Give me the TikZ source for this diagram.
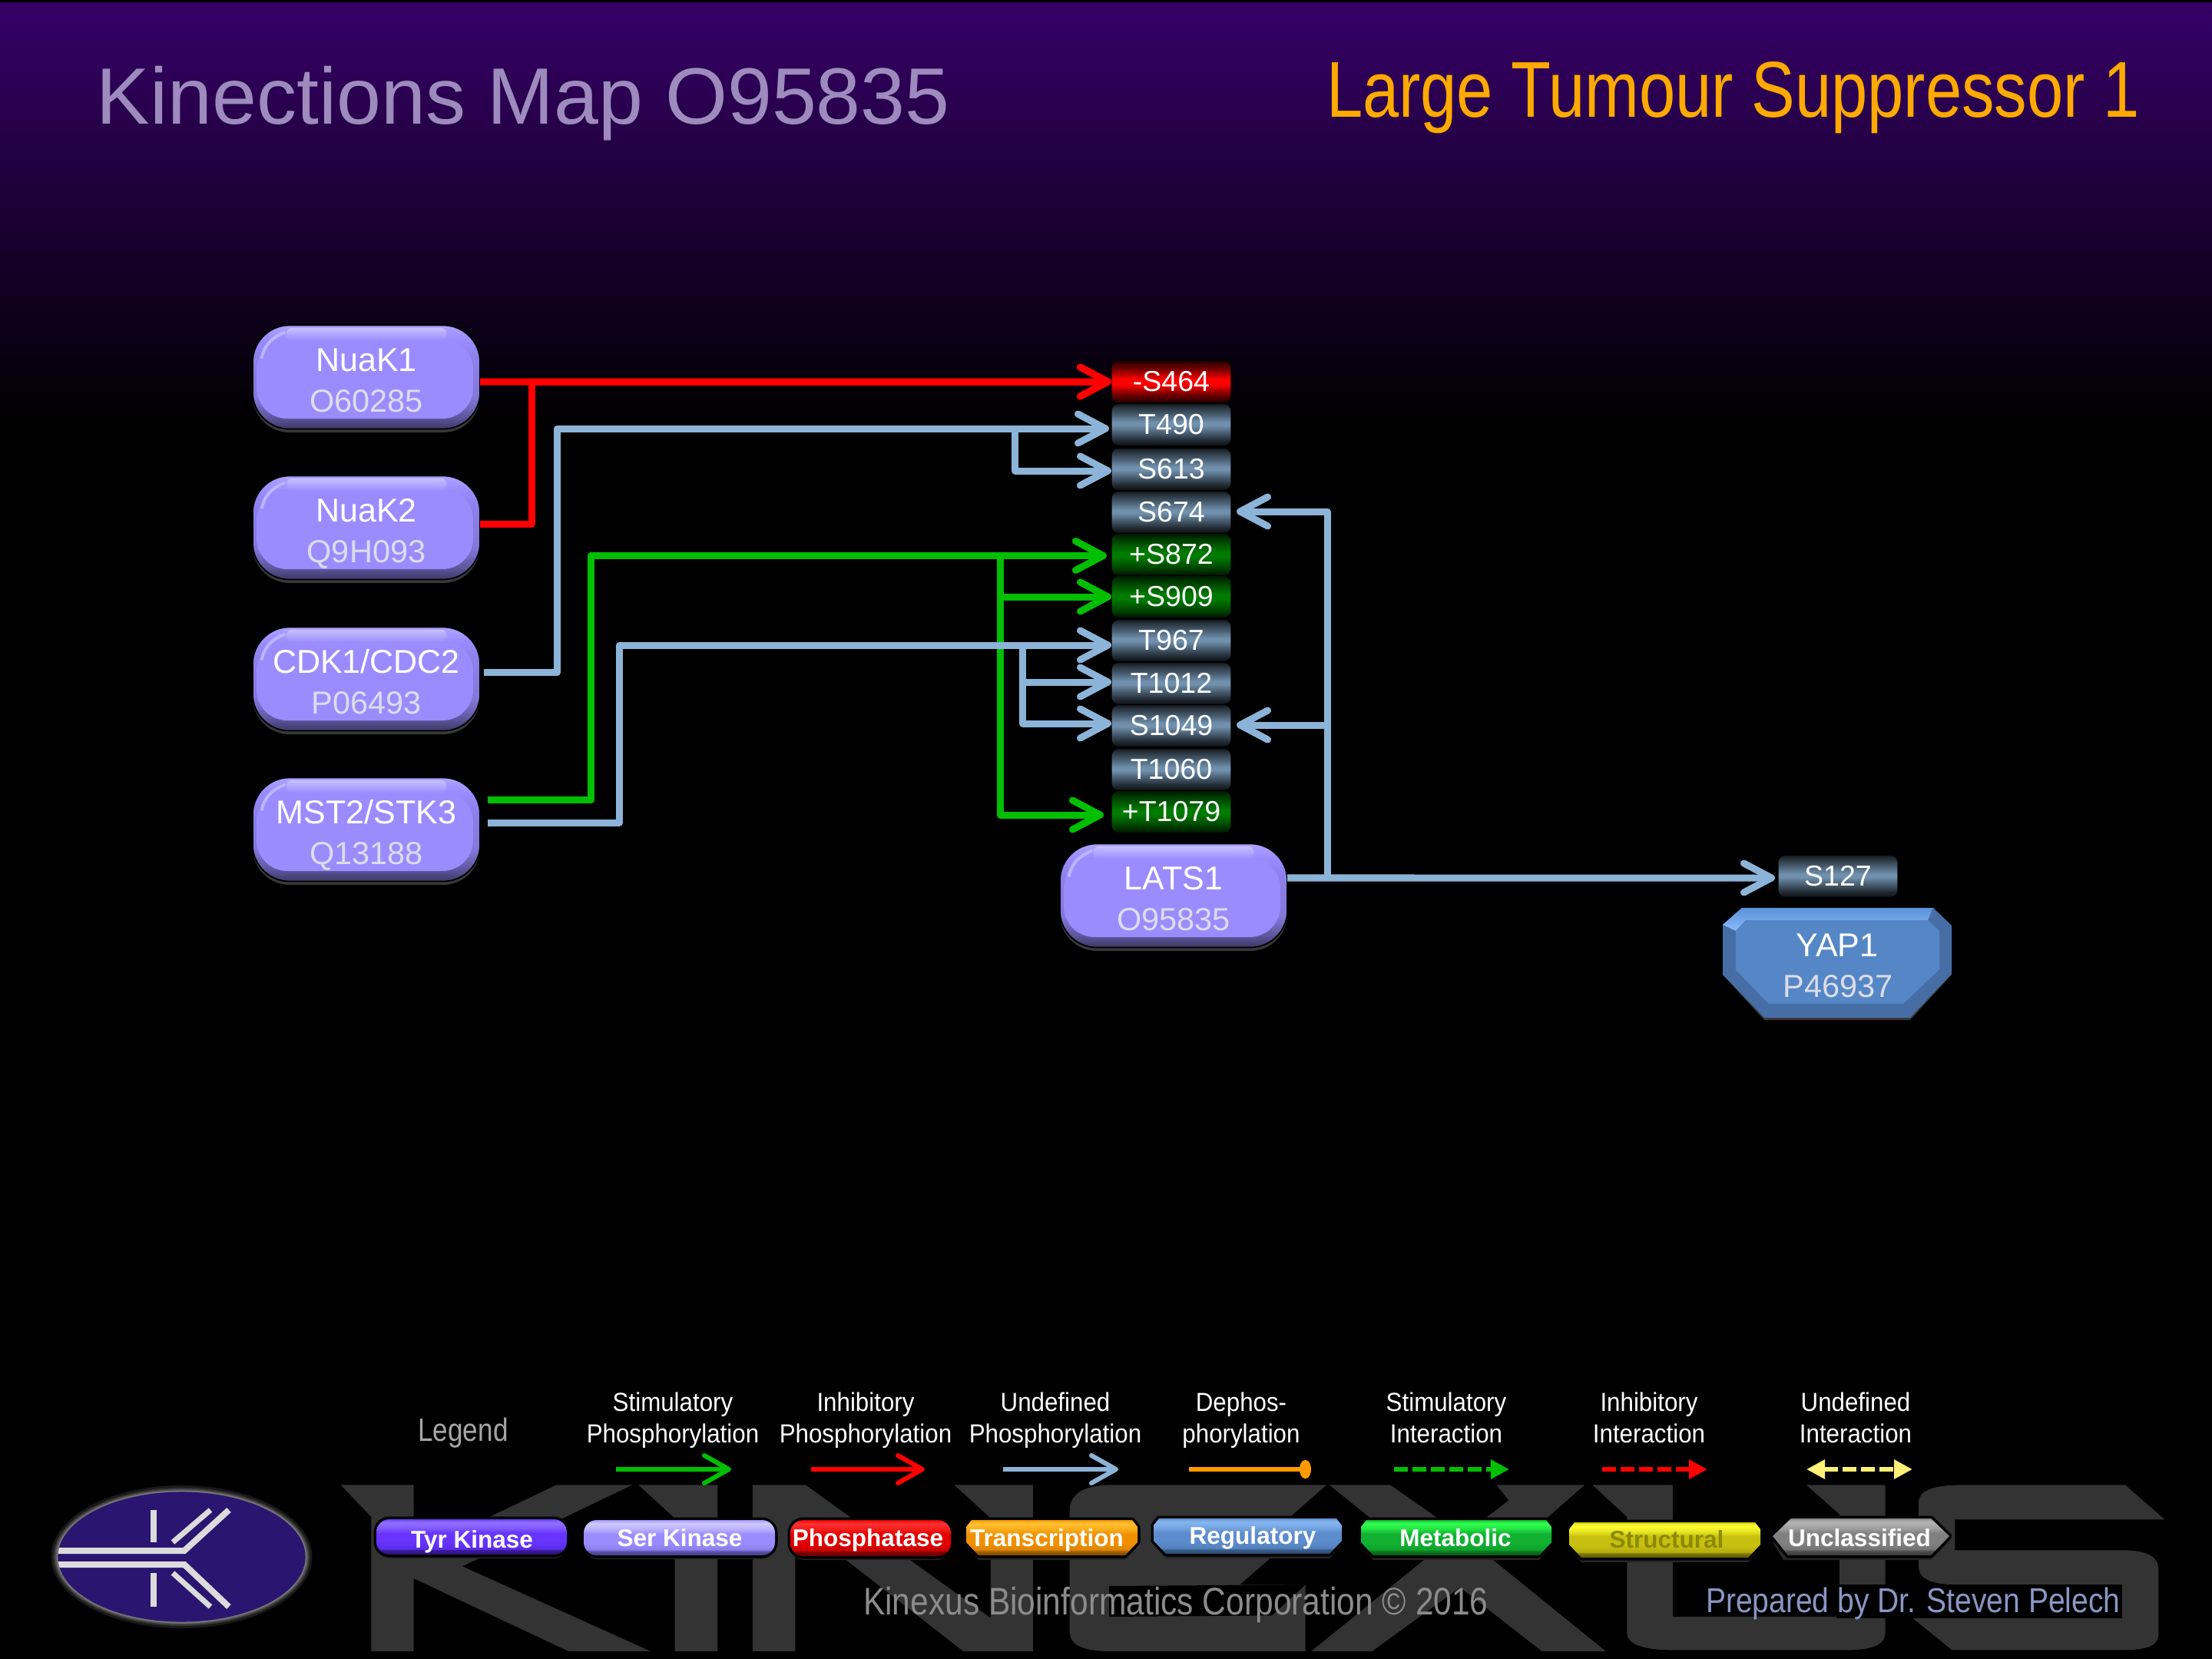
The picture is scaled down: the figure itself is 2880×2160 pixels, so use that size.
\documentclass[tikz,border=0pt]{standalone}
\usepackage{fontspec}
\usepackage{graphicx}
\setmainfont{Liberation Sans}
\usetikzlibrary{arrows.meta,calc}
% colours
\definecolor{cRed}{HTML}{FF0000}
\definecolor{cGreen}{HTML}{00BF00}
\definecolor{cBlue}{HTML}{8CB4D8}
\definecolor{cOrange}{HTML}{FF9900}
\definecolor{cYellow}{HTML}{FFF176}
\definecolor{cBody}{HTML}{9A8CFF}
\definecolor{cSub}{HTML}{DCDCE8}
\definecolor{cMark}{HTML}{333333}
\definecolor{cBg}{HTML}{340063}
\definecolor{cTitleL}{HTML}{9D8BBD}
\definecolor{cTitleR}{HTML}{FFAA00}
\definecolor{cYapA}{HTML}{466EA5}
\definecolor{cYapB}{HTML}{5A91D7}
\definecolor{cYapC}{HTML}{8ABCFF}
\definecolor{cYapD}{HTML}{5587C6}
\definecolor{cStruct}{HTML}{8C8A00}
\definecolor{cLogo}{HTML}{2A1570}
\definecolor{cFootA}{HTML}{8C8C8C}
\definecolor{cFootB}{HTML}{8A96C4}
% shadings: TikZ maps the inner 25bp..75bp band of a 100bp shading onto the path
\pgfdeclareverticalshading{bubblesh}{100bp}{color(0bp)=(cBody!40!black); color(25bp)=(cBody!40!black); color(31bp)=(cBody!62!black); color(40bp)=(cBody!85!black); color(60bp)=(cBody!92!black); color(68bp)=(cBody); color(75bp)=(cBody!80!white); color(100bp)=(cBody!80!white)}
\pgfdeclareverticalshading{sblue}{100bp}{color(0bp)=(black!92!cBlue); color(25bp)=(black!92!cBlue); color(31bp)=(black!78!cBlue); color(40bp)=(black!50!cBlue); color(49bp)=(black!20!cBlue); color(53bp)=(black!20!cBlue); color(62bp)=(black!48!cBlue); color(70bp)=(black!70!cBlue); color(75bp)=(black!85!cBlue); color(100bp)=(black!85!cBlue)}
\pgfdeclareverticalshading{sred}{100bp}{color(0bp)=(black!88!red); color(25bp)=(black!88!red); color(35bp)=(black!55!red); color(47bp)=(red); color(53bp)=(red); color(65bp)=(black!55!red); color(75bp)=(black!85!red); color(100bp)=(black!85!red)}
\pgfdeclareverticalshading{sgreen}{100bp}{color(0bp)=(black!92!green); color(25bp)=(black!92!green); color(35bp)=(black!72!green); color(47bp)=(black!52!green); color(53bp)=(black!52!green); color(65bp)=(black!72!green); color(75bp)=(black!90!green); color(100bp)=(black!90!green)}
\newcommand\legsh[4]{\pgfdeclareverticalshading{#1}{100bp}{color(0bp)=(#4!70!black); color(25bp)=(#4!70!black); color(31bp)=(#4); color(33bp)=(#2!75!#4); color(38bp)=(#2!88!#4); color(42bp)=(#2); color(55bp)=(#2); color(62bp)=(#3!60!#2); color(70bp)=(#3); color(73bp)=(#3!60!#2); color(75bp)=(#2); color(100bp)=(#2)}}
\definecolor{t1}{HTML}{6633FF}\definecolor{t2}{HTML}{9070FF}\definecolor{t3}{HTML}{3A1A99}
\definecolor{s1}{HTML}{9A8CFF}\definecolor{s2}{HTML}{CFC8FF}\definecolor{s3}{HTML}{5F54B0}
\definecolor{p1}{HTML}{E00000}\definecolor{p2}{HTML}{FF3030}\definecolor{p3}{HTML}{8A0000}
\definecolor{r1}{HTML}{F09000}\definecolor{r2}{HTML}{FFC030}\definecolor{r3}{HTML}{A86400}
\definecolor{g1}{HTML}{5C8CCC}\definecolor{g2}{HTML}{85B5F0}\definecolor{g3}{HTML}{3A6290}
\definecolor{m1}{HTML}{10B030}\definecolor{m2}{HTML}{30FF50}\definecolor{m3}{HTML}{0A7A1E}
\definecolor{y1}{HTML}{C8C010}\definecolor{y2}{HTML}{FFFF30}\definecolor{y3}{HTML}{807A08}
\definecolor{u1}{HTML}{808080}\definecolor{u2}{HTML}{B4B4B4}\definecolor{u3}{HTML}{505050}
\legsh{shTyr}{t1}{t2}{t3}\legsh{shSer}{s1}{s2}{s3}\legsh{shPho}{p1}{p2}{p3}\legsh{shTra}{r1}{r2}{r3}
\legsh{shReg}{g1}{g2}{g3}\legsh{shMet}{m1}{m2}{m3}\legsh{shStr}{y1}{y2}{y3}\legsh{shUnc}{u1}{u2}{u3}
% text helpers (sizes in reference pixels)
\newcommand\pxf[1]{\pgfmathsetmacro\myfs{#1*0.28453}\fontsize{\myfs pt}{\myfs pt}\selectfont}
\newcommand\tx[3]{{\pxf{#1}\scalebox{#2}[1]{#3}}}
\tikzset{
  every node/.style={inner sep=0pt,outer sep=0pt},
  bubble/.style={rectangle,rounded corners=.48cm,minimum width=2.96cm,minimum height=1.35cm,shading=bubblesh,draw=black,line width=.5pt},
  sitebox/.style={rectangle,rounded corners=.09cm,minimum width=1.56cm,minimum height=.55cm,draw=black,line width=.4pt,text=white,font=\pxf{37.5}},
  lab/.style={anchor=base,text=white},
  sublab/.style={anchor=base,text=cSub},
  conn/.style={line width=.09cm,line join=round},
  barb/.style={-{Straight Barb[length=.36cm,width=.38cm,round]}},
  legbarb/.style={line width=.06cm,-{Straight Barb[length=.32cm,width=.36cm,round]}},
  legdash/.style={line width=.06cm,dash pattern=on .18cm off .06cm},
  legcaption/.style={anchor=base,text=white},
  pilltext/.style={anchor=base,text=white,font=\bfseries\pxf{31.5}},
  markfill/.style={fill=cMark},
  footertext/.style={anchor=base west}
}
\newcommand\kinbox[5]{%
  \begin{scope}[shift={(#2,#3)}]
    \fill[black!78!white,rounded corners=.48cm] (-148,-63) rectangle (148,72);
    \node[bubble] (#1) at (0,0) {};
    \fill[cBody,rounded corners=.4cm] (-143,-50) rectangle (139,54);
    \shade[top color=cBody!55!white,bottom color=cBody,rounded corners=.06cm] (-104,-64) rectangle (104,-48);
    \draw[cBody!65!white,line width=.04cm,line cap=round] (-136,-26) .. controls (-133,-42) and (-122,-52) .. (-107,-58);
    \node[lab] (#1a) at (0,-8) {\tx{43}{1}{#4}};
    \node[sublab] (#1b) at (0,45) {\tx{41.5}{1}{#5}};
  \end{scope}}
\newcommand\site[4]{\node[sitebox,shading=#4] (#1) at (1525,#2) {#3};}
\newcommand\octpill[5]{%
  \fill[black!85!white] ({#1+16},{#4+6}) -- ({#3-16},{#4+6}) -- (#3,{#4-12}) -- (#1,{#4-12}) -- cycle;
  \path[draw=black,line width=.07cm,line join=round] ({#1+7},#2) -- ({#3-7},#2) -- (#3,{#2+9}) -- (#3,{#4-17}) -- ({#3-16},#4) -- ({#1+16},#4) -- (#1,{#4-17}) -- (#1,{#2+9}) -- cycle;
  \shade[shading=#5] ({#1+7},#2) -- ({#3-7},#2) -- (#3,{#2+9}) -- (#3,{#4-17}) -- ({#3-16},#4) -- ({#1+16},#4) -- (#1,{#4-17}) -- (#1,{#2+9}) -- cycle;}
\newcommand\roundpill[5]{%
  \fill[black!85!white,rounded corners=.18cm] (#1,{#2+6}) rectangle (#3,{#4+5});
  \draw[black,line width=.07cm,rounded corners=.17cm] (#1,#2) rectangle (#3,#4);
  \shade[shading=#5,rounded corners=.17cm] (#1,#2) rectangle (#3,#4);}
\newcommand\legcap[4]{%
  \node[legcaption] (#1a) at (#2,1837.5) {\tx{34}{.92}{#3}};
  \node[legcaption] (#1b) at (#2,1878) {\tx{34}{.92}{#4}};}
\begin{document}
\begin{tikzpicture}[x=.01cm,y=-.01cm]
\useasboundingbox (0,0) rectangle (2880,2160);
% background
\fill[black] (0,0) rectangle (2880,2160);
\shade[top color=cBg,bottom color=black] (0,30) rectangle (2880,550);
\fill[cBg] (0,3) rectangle (2880,31);
% watermark
\begin{scope}[shift={(420,1900)},xscale=.7908,yscale=.3333]
  \fill[markfill] (30,100) -- (150,100) -- (150,367) -- (385,100) -- (510,100) -- (230,418) -- (540,750) -- (405,750) -- (150,465) -- (150,750) -- (80,750) -- (80,225) -- cycle;
  \fill[markfill] (520,100) -- (650,100) -- (650,750) -- (580,750) -- (580,230) -- cycle;
  \fill[markfill] (708,100) -- (795,100) -- (1100,620) -- (1100,230) -- (1040,100) -- (1170,100) -- (1170,750) -- (1055,750) -- (778,238) -- (778,750) -- (708,750) -- cycle;
  \fill[markfill] (1300,100) .. controls (1250,100) and (1230,140) .. (1230,200) -- (1230,670) .. controls (1230,725) and (1250,750) .. (1300,750) -- (1618,750) -- (1618,490) -- (1510,490) -- (1568,370) -- (1593,225) -- (1653,100) -- cycle;
  \fill[black] (1295,495) -- (1618,490) -- (1563,610) -- (1295,615) -- cycle;
\end{scope}
\begin{scope}[shift={(1640,1900)},xscale=.7908,yscale=.3333]
  \fill[markfill] (115,100) -- (215,100) -- (290,225) -- (335,290) -- (375,225) -- (410,160) -- (390,100) -- (535,100) -- (475,225) -- (380,385) -- (570,750) -- (465,750) -- (330,500) -- (185,750) -- (85,750) -- (275,385) -- (180,225) -- cycle;
  \fill[markfill] (548,100) -- (680,100) -- (680,615) -- (955,615) -- (955,215) -- (900,100) -- (1030,100) -- (1030,680) .. controls (1030,720) and (1010,745) .. (970,745) -- (680,745) .. controls (630,745) and (605,720) .. (605,680) -- (605,225) -- cycle;
  \fill[markfill] (1160,100) -- (1425,100) -- (1490,235) -- (1145,235) -- (1145,355) -- (1420,355) .. controls (1465,355) and (1480,385) .. (1480,430) -- (1480,680) .. controls (1480,725) and (1465,745) .. (1420,745) -- (1140,745) -- (1075,620) -- (1420,620) -- (1420,490) -- (1150,490) .. controls (1105,490) and (1085,465) .. (1085,420) -- (1085,170) .. controls (1085,125) and (1105,100) .. (1160,100) -- cycle;
  \fill[black] (950,490) rectangle (1420,620);
\end{scope}
% titles
\node[footertext,text=cTitleL] (titleL) at (126,161) {\tx{104}{1}{Kinections Map O95835}};
\node[footertext,text=cTitleR] (titleR) at (1727,152) {\tx{103}{.824}{Large Tumour Suppressor 1}};
% kinases
\kinbox{nuaka}{477}{491}{NuaK1}{O60285}
\kinbox{nuakb}{477}{687}{NuaK2}{Q9H093}
\kinbox{cdk}{477}{884}{CDK1/CDC2}{P06493}
\kinbox{mst}{477}{1080}{MST2/STK3}{Q13188}
\kinbox{lats}{1528}{1166}{LATS1}{O95835}
% sites
\site{sa}{497}{-S464}{sred}
\site{sb}{553}{T490}{sblue}
\site{sc}{611}{S613}{sblue}
\site{sd}{667}{S674}{sblue}
\site{se}{722}{+S872}{sgreen}
\site{sf}{777}{+S909}{sgreen}
\site{sg}{834}{T967}{sblue}
\site{sh}{890}{T1012}{sblue}
\site{si}{945}{S1049}{sblue}
\site{sj}{1002}{T1060}{sblue}
\site{sk}{1057}{+T1079}{sgreen}
\node[sitebox,shading=sblue] (sy) at (2393,1141) {S127};
% YAP1
\fill[black!78!white] (2243,1269) -- (2297,1328) -- (2487,1328) -- (2541,1269) -- cycle;
\fill[cYapA] (2268,1182) -- (2517,1182) -- (2541,1205) -- (2541,1268) -- (2487,1325) -- (2297,1325) -- (2243,1269) -- (2243,1204) -- cycle;
\shade[top color=cYapB,bottom color=cYapC] (2268,1182) -- (2517,1182) -- (2510,1198) -- (2273,1198) -- (2260,1212) -- (2243,1204) -- cycle;
\fill[cYapD] (2273,1198) -- (2510,1198) -- (2525,1212) -- (2525,1262) -- (2478,1307) -- (2303,1307) -- (2260,1263) -- (2260,1212) -- cycle;
\node[lab] (yap) at (2392,1245) {\tx{43}{1}{YAP1}};
\node[sublab] (yapb) at (2393,1298) {\tx{41.5}{1}{P46937}};
% connectors
\draw[conn,cRed,barb] ([yshift=-.06cm]nuaka.east) -- (sa.west);
\draw[conn,cRed,barb] ([yshift=.05cm]nuakb.east) -- ++(67,0) |- (sa.west);
\draw[conn,cGreen,barb] ([xshift=.1cm,yshift=.38cm]mst.east) -- ++(134,0) |- ([xshift=-.06cm,yshift=-.015cm]se.west);
\draw[conn,cGreen,barb] ([xshift=-1.44cm,yshift=-.015cm]se.west) |- (sf.west);
\draw[conn,cGreen,barb] ([xshift=-1.44cm,yshift=-.015cm]se.west) |- ([xshift=-.1cm,yshift=-.04cm]sk.west);
\draw[conn,cBlue,barb] ([xshift=.05cm,yshift=.085cm]cdk.east) -- ++(95,0) |- ([xshift=-.03cm,yshift=-.05cm]sb.west);
\draw[conn,cBlue,barb] ([xshift=-1.25cm,yshift=-.05cm]sb.west) |- ([yshift=-.02cm]sc.west);
\draw[conn,cBlue,barb] ([xshift=.1cm,yshift=.09cm]mst.east) -- ++(171,0) |- ([yshift=-.06cm]sg.west);
\draw[conn,cBlue,barb] ([xshift=-1.15cm,yshift=-.06cm]sg.west) |- ([yshift=.02cm]sh.west);
\draw[conn,cBlue,barb] ([xshift=-1.15cm,yshift=-.06cm]sg.west) |- ([yshift=.03cm]si.west);
\draw[conn,cBlue,barb] ([yshift=.23cm]lats.east) -- ([xshift=-.04cm,yshift=-.02cm]sy.west);
\draw[conn,cBlue,barb] ([xshift=.52cm,yshift=.23cm]lats.east) |- ([xshift=.07cm,yshift=.01cm]sd.east);
\draw[conn,cBlue,barb] ([xshift=.52cm,yshift=.23cm]lats.east) |- ([xshift=.07cm,yshift=.01cm]si.east);
% legend captions
\node[anchor=base,text=black!35!white] (legendword) at (603,1876) {\tx{42}{.835}{Legend}};
\legcap{capa}{876}{Stimulatory}{Phosphorylation}
\legcap{capb}{1127}{Inhibitory}{Phosphorylation}
\legcap{capc}{1374}{Undefined}{Phosphorylation}
\legcap{capd}{1616}{Dephos-}{phorylation}
\legcap{cape}{1883}{Stimulatory}{Interaction}
\legcap{capf}{2147}{Inhibitory}{Interaction}
\legcap{capg}{2416}{Undefined}{Interaction}
% legend arrows
\coordinate (laa) at (802,1913); \coordinate (lab) at (952,1913);
\coordinate (lba) at (1056,1913); \coordinate (lbb) at (1204,1913);
\coordinate (lca) at (1306,1913); \coordinate (lcb) at (1456,1913);
\coordinate (lda) at (1548,1913); \coordinate (ldb) at (1707,1913);
\coordinate (lea) at (1815,1913); \coordinate (leb) at (1965,1913);
\coordinate (lfa) at (2086,1913); \coordinate (lfb) at (2223,1913);
\coordinate (lga) at (2352,1913); \coordinate (lgb) at (2490,1913);
\draw[legbarb,cGreen] (laa) -- (lab);
\draw[legbarb,cRed] (lba) -- (lbb);
\draw[legbarb,cBlue] (lca) -- (lcb);
\draw[line width=.06cm,cOrange,-{Ellipse[length=.15cm,width=.24cm]}] (lda) -- (ldb);
\draw[legdash,cGreen,-{Triangle[length=.24cm,width=.24cm]}] (lea) -- (leb);
\draw[legdash,cRed,-{Triangle[length=.24cm,width=.24cm]}] (lfa) -- (lfb);
\draw[legdash,cYellow,{Triangle[length=.24cm,width=.24cm]}-{Triangle[length=.24cm,width=.24cm]}] (lga) -- (lgb);
% legend pills
\roundpill{490}{1978}{738}{2024}{shTyr}
\roundpill{760}{1979}{1009}{2025}{shSer}
\roundpill{1029}{1979}{1238}{2026}{shPho}
\octpill{1258}{1979}{1481}{2025}{shTra}
\octpill{1502}{1977}{1747}{2023}{shReg}
\octpill{1772}{1979}{2020}{2025}{shMet}
\octpill{2043}{1982}{2292}{2028}{shStr}
\fill[black!85!white] (2322,2031) -- (2514,2031) -- (2538,2008) -- (2308,2008) -- cycle;
\path[draw=black,line width=.07cm,line join=round] (2332,1977) -- (2514,1977) -- (2538,2000) -- (2514,2025) -- (2328,2025) -- (2308,2000) -- cycle;
\shade[shading=shUnc] (2332,1977) -- (2514,1977) -- (2538,2000) -- (2514,2025) -- (2328,2025) -- (2308,2000) -- cycle;
\node[pilltext] (ptyr) at (614.5,2015) {Tyr Kinase};
\node[pilltext] (pser) at (885,2013) {Ser Kinase};
\node[pilltext] (ppho) at (1130,2013) {Phosphatase};
\node[pilltext] (ptra) at (1363,2013) {Transcription};
\node[pilltext] (preg) at (1631,2010) {Regulatory};
\node[pilltext] (pmet) at (1895,2013) {Metabolic};
\node[pilltext,text=cStruct] (pstr) at (2170,2015) {Structural};
\node[pilltext] (punc) at (2421,2013) {Unclassified};
% logo
\fill[black!90!white] (236.5,2027) ellipse [x radius=1.70cm,y radius=.93cm];
\fill[black!80!white] (236.5,2027) ellipse [x radius=1.67cm,y radius=.90cm];
\fill[black!68!white] (236.5,2027) ellipse [x radius=1.65cm,y radius=.88cm];
\fill[black!55!white] (236.5,2027) ellipse [x radius=1.63cm,y radius=.865cm];
\fill[cLogo] (236.5,2027) ellipse [x radius=1.61cm,y radius=.845cm];
\begin{scope}
  \clip (236.5,2027) ellipse [x radius=1.61cm,y radius=.845cm];
  \draw[black!14!white,line width=.08cm,line join=miter] (70,2019) -- (240,2019) -- (298,1966);
  \draw[black!14!white,line width=.08cm,line join=miter] (70,2037) -- (240,2037) -- (298,2092);
\end{scope}
\draw[black!14!white,line width=.07cm] (225,2008) -- (274,1966);
\draw[black!14!white,line width=.07cm] (225,2048) -- (274,2092);
\draw[black!14!white,line width=.08cm] (200,1966) -- (200,2008);
\draw[black!14!white,line width=.08cm] (200,2048) -- (200,2092);
% footer
\node[footertext,text=cFootA] (footA) at (1124,2102) {\tx{50}{.85}{Kinexus Bioinformatics Corporation © 2016}};
\node[footertext,text=cFootB] (footB) at (2221,2099) {\tx{45}{.867}{Prepared by Dr. Steven Pelech}};
\end{tikzpicture}
\end{document}
